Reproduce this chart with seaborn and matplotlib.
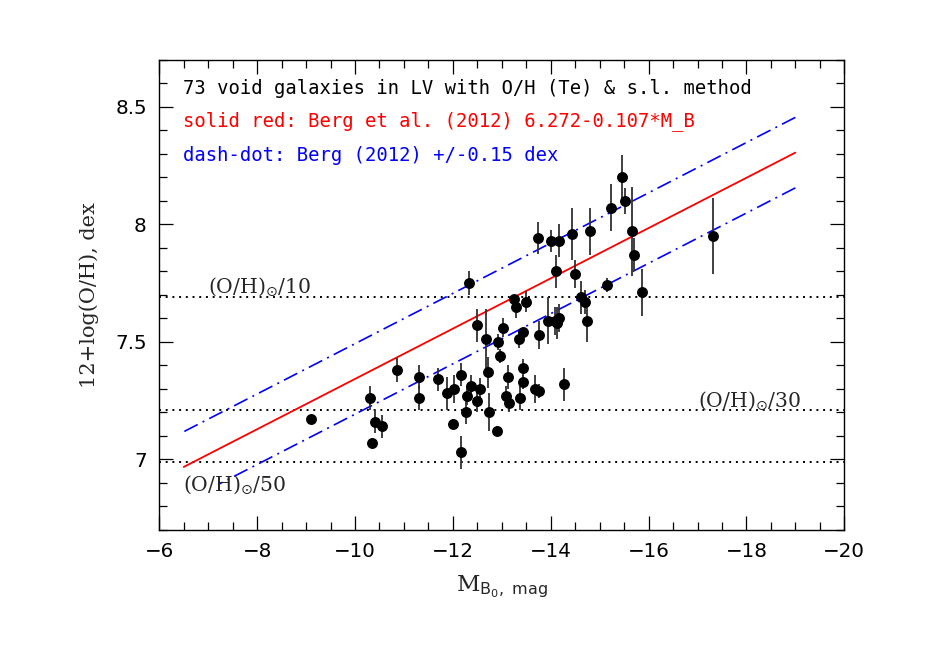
import numpy as np
import pandas as pd
import matplotlib
matplotlib.use("Agg")
import matplotlib.pyplot as plt
from matplotlib.ticker import MultipleLocator
import seaborn as sns

# ---- data ----
mag_b = [-9.11, -10.86, -10.31, -10.41, -10.55, -10.35, -11.30, -11.30, -11.69, -11.87,
         -12.03, -12.16, -12.28, -12.27, -12.00, -12.16, -12.49, -12.68, -13.03, -12.93,
         -12.97, -12.71, -12.38, -12.55, -12.49, -12.73, -12.91, -13.13, -13.09, -13.15,
         -13.37, -13.43, -13.43, -13.68, -13.76, -14.28, -13.35, -13.44, -13.77, -13.94,
         -14.09, -14.17, -14.12, -13.24, -13.29, -13.49, -13.73, -14.00, -14.16, -14.44,
         -14.80, -15.23, -15.45, -15.52, -15.66, -15.71, -15.86, -15.16, -17.31, -14.11,
         -14.50, -14.61, -14.71, -14.75, -12.32]
oh = [7.17, 7.38, 7.26, 7.16, 7.14, 7.07, 7.35, 7.26, 7.34, 7.28,
      7.30, 7.36, 7.27, 7.20, 7.15, 7.03, 7.57, 7.51, 7.56, 7.50,
      7.44, 7.37, 7.31, 7.30, 7.25, 7.20, 7.12, 7.35, 7.27, 7.24,
      7.26, 7.39, 7.33, 7.30, 7.29, 7.32, 7.51, 7.54, 7.53, 7.59,
      7.59, 7.60, 7.58, 7.68, 7.65, 7.67, 7.94, 7.93, 7.93, 7.96,
      7.97, 8.07, 8.20, 8.10, 7.97, 7.87, 7.71, 7.74, 7.95, 7.80,
      7.79, 7.69, 7.67, 7.59, 7.75]
oh_err = [0.02, 0.05, 0.05, 0.05, 0.05, 0.02, 0.05, 0.05, 0.05, 0.07,
          0.06, 0.05, 0.04, 0.05, 0.02, 0.07, 0.07, 0.13, 0.04, 0.035,
          0.03, 0.065, 0.05, 0.045, 0.05, 0.08, 0.02, 0.05, 0.04, 0.04,
          0.05, 0.035, 0.03, 0.06, 0.03, 0.07, 0.035, 0.02, 0.06, 0.10,
          0.06, 0.06, 0.07, 0.02, 0.05, 0.045, 0.068, 0.046, 0.07, 0.11,
          0.10, 0.10, 0.095, 0.056, 0.19, 0.07, 0.10, 0.03, 0.16, 0.07,
          0.06, 0.07, 0.05, 0.09, 0.05]

berg_intercept = 6.272
berg_slope = -0.107
berg_scatter = 0.15
fit_range = [-6.5, -19.0]
upper_range = [-6.5, -19.0]
lower_range = [-7.2, -19.0]

ref_levels = [7.69, 7.21, 6.99]
ref_labels = [r"(O/H)$_{\odot}$/10", r"(O/H)$_{\odot}$/30", r"(O/H)$_{\odot}$/50"]
ref_label_pos = [(-7.0, 7.735), (-17.01, 7.25), (-6.48, 6.89)]

legend_lines = ["73 void galaxies in LV with O/H (Te) & s.l. method",
                "solid red: Berg et al. (2012) 6.272-0.107*M_B",
                "dash-dot: Berg (2012) +/-0.15 dex"]

df = pd.DataFrame({"M": mag_b, "OH": oh, "err": oh_err})
f = np.array(fit_range)
u = np.array(upper_range)
l = np.array(lower_range)
lines = pd.DataFrame({
    "M": np.concatenate([f, u, l]),
    "OH": np.concatenate([berg_intercept + berg_slope * f,
                          berg_intercept + berg_slope * u + berg_scatter,
                          berg_intercept + berg_slope * l - berg_scatter]),
    "kind": ["fit"] * 2 + ["up"] * 2 + ["lo"] * 2,
})

sns.set_theme(style="ticks")
plt.rcParams["font.family"] = ["DejaVu Sans"]

fig = plt.figure(figsize=(9.25, 6.54), dpi=100)
ax = fig.add_axes([159.3 / 925, 1 - 529.8 / 654, 685 / 925, 470 / 654])

# reference horizontal dotted lines
for lev in ref_levels:
    ax.axhline(lev, color="black", lw=1.4, linestyle=(0, (1, 2.45)), zorder=1)

# Berg relation
sns.lineplot(data=lines[lines.kind == "fit"], x="M", y="OH", color="red", lw=1.3,
             ax=ax, zorder=2)
for k in ["up", "lo"]:
    sns.lineplot(data=lines[lines.kind == k], x="M", y="OH", color="blue", lw=1.2,
                 linestyle=(0, (9, 3.3, 1.2, 3.3)), ax=ax, zorder=2)

# error bars and points
ax.errorbar(df["M"], df["OH"], yerr=df["err"], fmt="none", ecolor="#303030",
            elinewidth=1.3, capsize=0, zorder=3)
sns.scatterplot(data=df, x="M", y="OH", color="black", s=62, edgecolor="black",
                linewidth=0, ax=ax, zorder=4)

ax.set_xlim(-6, -20)
ax.set_ylim(6.7, 8.7)
ax.xaxis.set_major_locator(MultipleLocator(2))
ax.xaxis.set_minor_locator(MultipleLocator(0.5))
ax.yaxis.set_major_locator(MultipleLocator(0.5))
ax.yaxis.set_minor_locator(MultipleLocator(0.1))
ax.set_yticks([7, 7.5, 8, 8.5])
ax.set_yticklabels(["7", "7.5", "8", "8.5"])
ax.tick_params(which="both", direction="in", top=True, right=True, width=0.9,
               labelsize=14.3, colors="black")
ax.tick_params(which="major", length=10, pad=9)
ax.tick_params(which="minor", length=6)
for sp in ax.spines.values():
    sp.set_linewidth(1.0)
    sp.set_color("black")

ax.set_xlabel(r"M$_{\mathrm{B_0},\ \mathrm{mag}}$", fontsize=16.5,
              family="DejaVu Serif", labelpad=9)
ax.set_ylabel("12+log(O/H), dex", fontsize=15, family="DejaVu Serif", labelpad=12)

# reference labels
for txt, (xx, yy) in zip(ref_labels, ref_label_pos):
    ax.text(xx, yy, txt, fontsize=14.7, family="DejaVu Serif",
            ha="left", va="center")

# annotation block
for txt, yy, col in zip(legend_lines, [0.938, 0.869, 0.797], ["black", "red", "blue"]):
    ax.text(0.0346, yy, txt, transform=ax.transAxes, color=col, fontsize=13.55,
            family="DejaVu Sans Mono", ha="left", va="center")

fig.savefig("out.png", dpi=100)
